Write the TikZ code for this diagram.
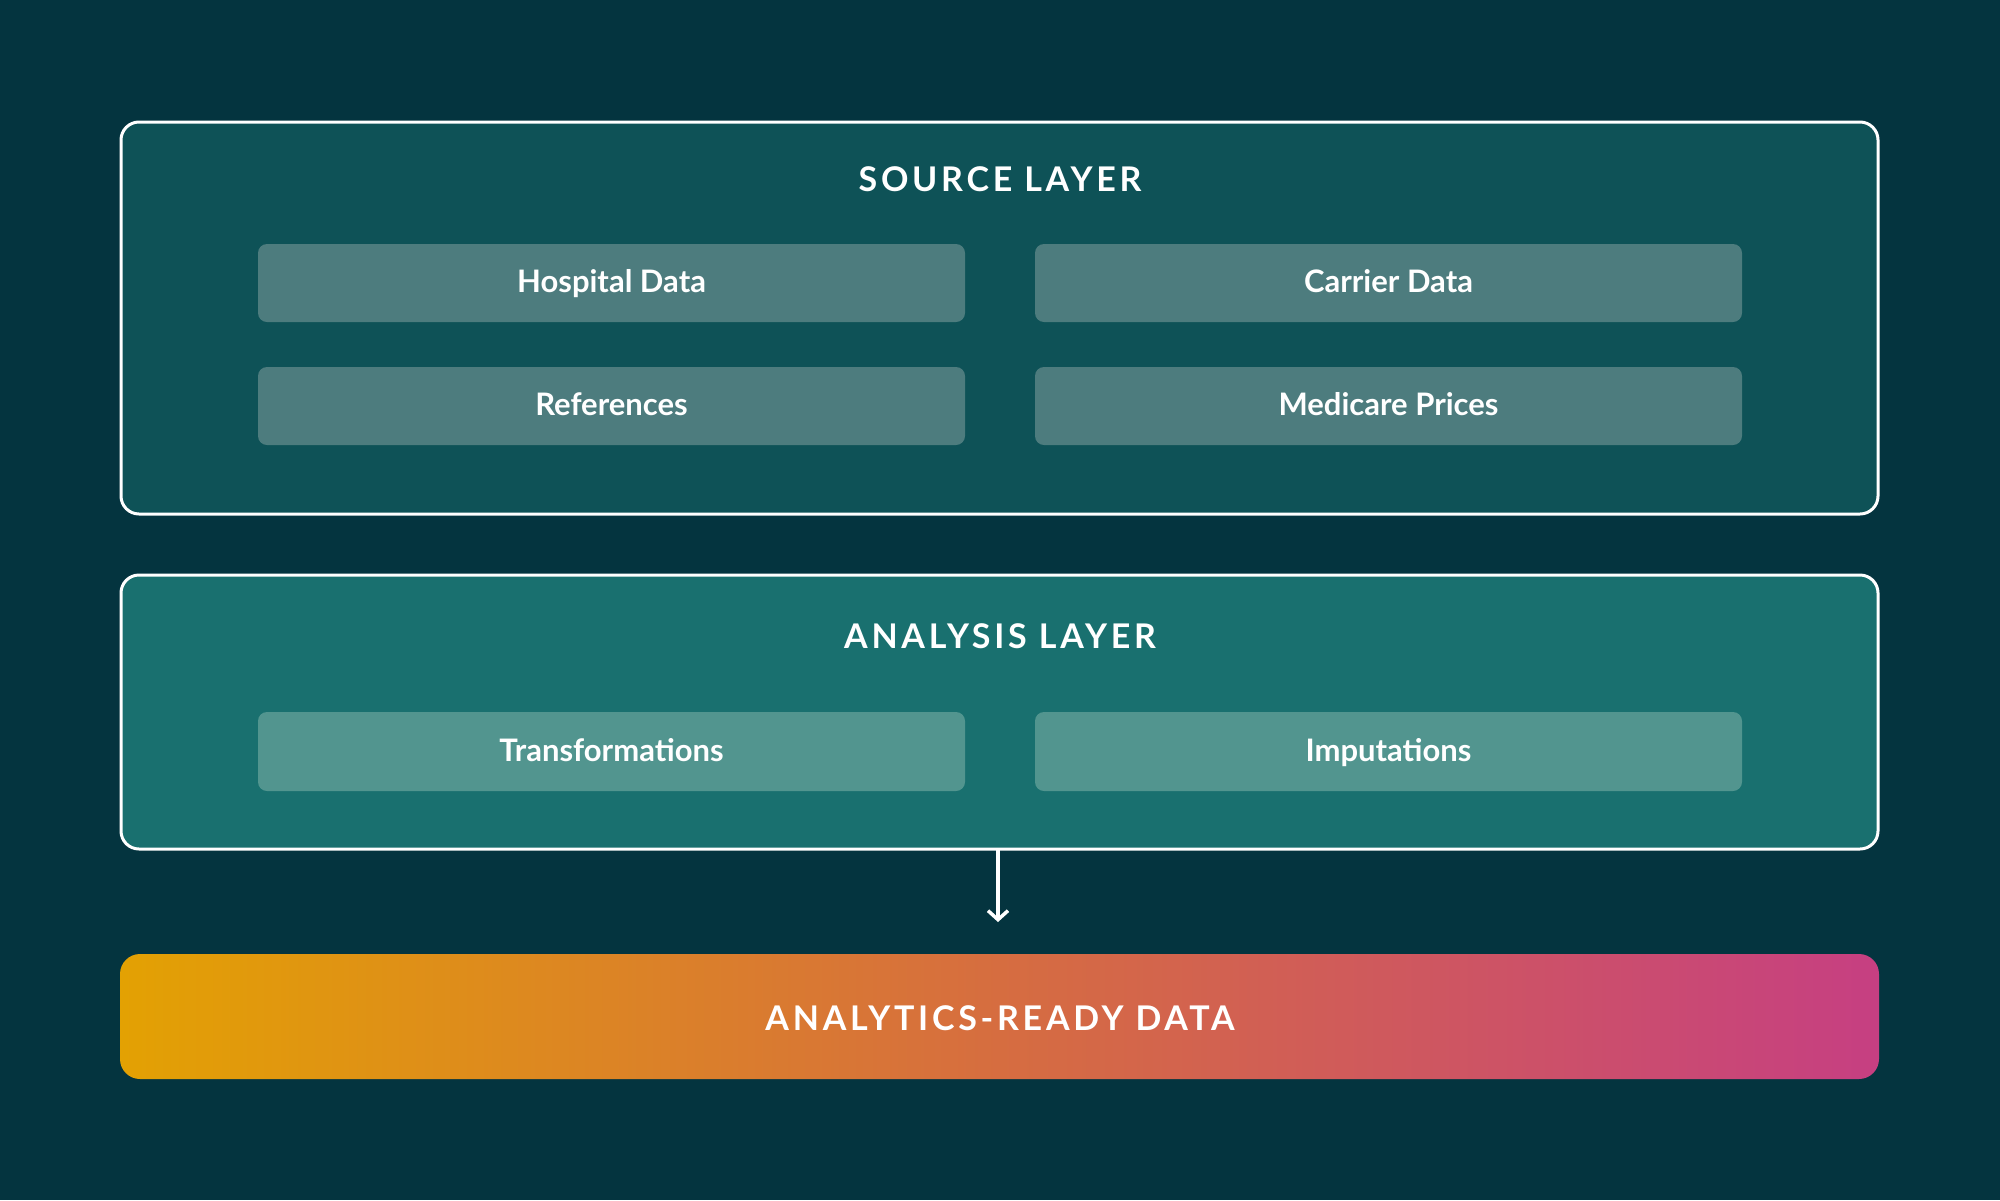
\documentclass[tikz,border=0pt]{standalone}
\usepackage{fontspec}
\setmainfont{Lato}
\newfontfamily\titlefont[LetterSpace=11]{Lato Bold}
\newfontfamily\labelfont{Lato Bold}
\usetikzlibrary{arrows.meta}
\definecolor{bgc}{HTML}{04343F}
\definecolor{srcfill}{HTML}{0E5257}
\definecolor{srcin}{HTML}{4D7C7E}
\definecolor{anafill}{HTML}{19706F}
\definecolor{anain}{HTML}{52958F}
\definecolor{gleft}{HTML}{E3A103}
\definecolor{gmid}{HTML}{D66D40}
\definecolor{gright}{HTML}{C63F82}
\tikzset{
  layerbox/.style={draw=white, line width=3pt, rounded corners=18pt},
  itembox/.style={text=white, font=\labelfont\fontsize{31}{36}\selectfont, anchor=base, inner sep=0pt},
  itemfill/.style={rounded corners=9pt},
  titletext/.style={text=white, font=\titlefont\fontsize{34}{40}\selectfont, inner sep=0pt, anchor=base},
}
\begin{document}
\begin{tikzpicture}[x=1pt,y=-1pt]
\fill[bgc] (0,0) rectangle (2000,1200);
\useasboundingbox (0,0) rectangle (2000,1200);
% source layer
\draw[layerbox, fill=srcfill] (121,122) rectangle (1878,514);
\node[titletext] (srctitle) at (1000,191.5) {SOURCE LAYER};
\fill[srcin, itemfill] (258,244) rectangle (965,322);
\node[itembox] (hosp) at (611.5,292) {Hospital Data};
\fill[srcin, itemfill] (1035,244) rectangle (1742,322);
\node[itembox] (carr) at (1388.5,292) {Carrier Data};
\fill[srcin, itemfill] (258,367) rectangle (965,445);
\node[itembox] (refs) at (611.5,415) {References};
\fill[srcin, itemfill] (1035,367) rectangle (1742,445);
\node[itembox] (medi) at (1388.5,415) {Medicare Prices};
% analysis layer
\draw[layerbox, fill=anafill] (121,575) rectangle (1878,849);
\node[titletext] (anatitle) at (1000,648.5) {ANALYSIS LAYER};
\fill[anain, itemfill] (258,712) rectangle (965,791);
\node[itembox] (trans) at (611.5,761) {Transformations};
\fill[anain, itemfill] (1035,712) rectangle (1742,791);
\node[itembox] (imp) at (1388.5,761) {Imputations};
% arrow
\coordinate (abot) at (998,850);
\coordinate (atip) at (998,922);
\draw[white, line width=3.5pt, -{Straight Barb[length=9pt,width=20pt,line width=3.5pt]}] (abot) -- (atip);
% result
\shade[rounded corners=20pt, left color=gleft, right color=gright, middle color=gmid] (120,954) rectangle (1879,1079);
\node[titletext] (result) at (1000,1030.5) {ANALYTICS-READY DATA};
\end{tikzpicture}
\end{document}
